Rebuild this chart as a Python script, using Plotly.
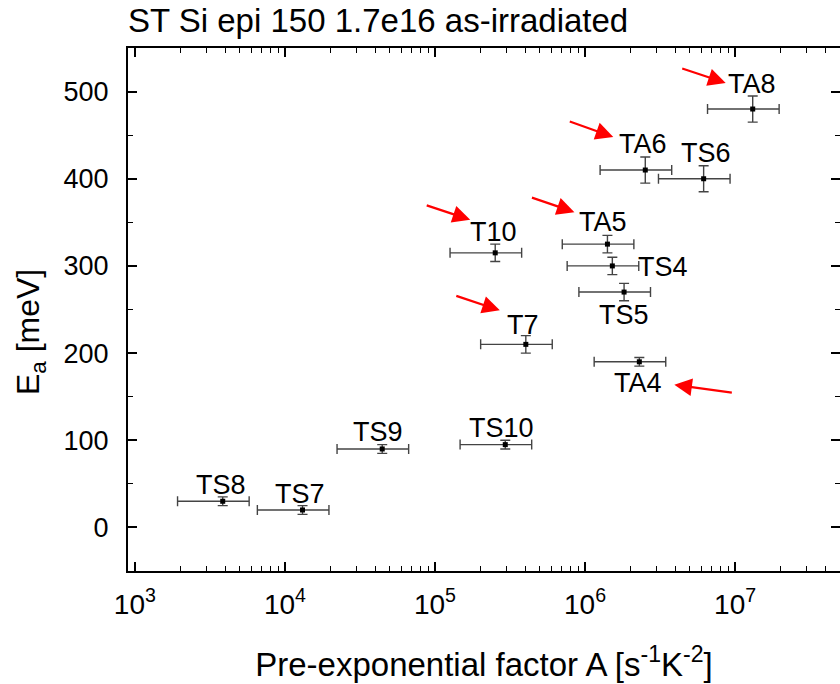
import math
import plotly.graph_objects as go

# Trap levels: pre-exponential factor A [s^-1 K^-2] and activation energy Ea [meV]
names = ["TS8", "TS7", "TS9", "TS10", "T7", "TA4", "TS5", "TS4", "T10", "TA5", "TA6", "TS6", "TA8"]
A_vals = [3.85e3, 1.31e4, 4.45e4, 2.94e5, 4.03e5, 2.30e6, 1.82e6, 1.52e6, 2.52e5, 1.41e6, 2.52e6, 6.17e6, 1.31e7]
Ea_vals = [30, 20, 90, 95, 210, 190, 270, 300, 315, 325, 410, 400, 480]
Ea_err = [5, 5, 5, 5, 10, 5, 10, 10, 10, 10, 15, 15, 15]
A_err_percent = 50

# Levels highlighted with a red arrow
highlighted = ["TA8", "TA6", "TA5", "T10", "T7", "TA4"]

x_tick_vals = [1e3, 1e4, 1e5, 1e6, 1e7]
x_tick_text = ["10<sup>3</sup>", "10<sup>4</sup>", "10<sup>5</sup>", "10<sup>6</sup>", "10<sup>7</sup>"]
y_tick_vals = [0, 100, 200, 300, 400, 500]

# label placement (pixel offsets of label centre from its point)
label_offsets = {
    "TS8": (-2, 16), "TS7": (-3, 16), "TS9": (-4, 17), "TS10": (-4, 17),
    "T7": (-3, 19), "TA4": (-1, -21), "TS5": (0, -23), "TS4": (51, -1),
    "T10": (-2, 21), "TA5": (-4, 22), "TA6": (-2, 26), "TS6": (2, 26), "TA8": (-1, 25),
}
# arrow tip shift from the point and tail offset from the tip (pixels)
arrow_geom = {
    "TA8": (-27, 26, -45, -15),
    "TA6": (-32, 33, -45, -16),
    "TA5": (-33, 32, -44, -15),
    "T10": (-25, 33, -45, -15),
    "T7": (-26, 34, -45, -15),
    "TA4": (35, -23, 59, 8),
}

FONT = "Arial, 'Liberation Sans', sans-serif"
W, H = 846, 684
PLOT_L, PLOT_R, PLOT_T, PLOT_B = 128, 842, 48, 571

fig = go.Figure()
fig.add_trace(go.Scatter(
    x=A_vals, y=Ea_vals, mode="markers",
    marker=dict(symbol="square", size=5, color="black"),
    error_x=dict(type="percent", value=A_err_percent, color="#444444", thickness=1.4, width=5),
    error_y=dict(type="data", array=Ea_err, color="#444444", thickness=1.4, width=5),
    showlegend=False,
))

annotations = []
for n, a, e in zip(names, A_vals, Ea_vals):
    dx, dy = label_offsets[n]
    lx = math.log10(a)  # annotations on a log axis use log10 coordinates
    annotations.append(dict(
        x=lx, y=e, xref="x", yref="y", text=n, showarrow=False,
        xshift=dx, yshift=dy, xanchor="center", yanchor="middle",
        font=dict(family=FONT, size=27, color="black"),
    ))
    if n in highlighted:
        sx, sy, ax, ay = arrow_geom[n]
        annotations.append(dict(
            x=lx, y=e, xref="x", yref="y", text="", showarrow=True,
            xshift=sx, yshift=sy, ax=ax, ay=ay, axref="pixel", ayref="pixel",
            arrowhead=2, arrowsize=1.6, arrowwidth=2.2, arrowcolor="#ff0000",
            standoff=0, startstandoff=0,
        ))

# y-axis title
annotations.append(dict(
    text="E<sub>a</sub> [meV]", textangle=-90, showarrow=False,
    xref="paper", yref="paper", x=0, y=(PLOT_B - 332) / (PLOT_B - PLOT_T),
    xanchor="center", yanchor="middle", xshift=30 - PLOT_L,
    font=dict(family=FONT, size=32, color="black"),
))

minor_x = [m * 10 ** k for k in range(2, 8) for m in range(2, 10)]

fig.update_layout(
    width=W, height=H,
    margin=dict(l=PLOT_L, r=W - PLOT_R, t=PLOT_T, b=H - PLOT_B),
    paper_bgcolor="white", plot_bgcolor="white",
    font=dict(family=FONT, color="black"),
    title=dict(text="ST Si epi 150 1.7e16 as-irradiated", x=0, xref="paper", xanchor="left",
               y=1 - 20 / H, yref="container", yanchor="middle",
               font=dict(family=FONT, size=33, color="black")),
    annotations=annotations,
)
fig.update_xaxes(
    type="log", range=[2.9542, 7.699],
    tickvals=x_tick_vals, ticktext=x_tick_text,
    ticks="inside", ticklen=9, tickwidth=1.6, tickcolor="black",
    minor=dict(tickvals=minor_x, ticks="inside", ticklen=5, tickwidth=1.4, tickcolor="black", showgrid=False),
    showline=True, linecolor="black", linewidth=2, mirror="ticks",
    showgrid=False, zeroline=False,
    tickfont=dict(family=FONT, size=28, color="black"), ticklabelstandoff=7,
    title=dict(text="Pre-exponential factor A [s<sup>-1</sup>K<sup>-2</sup>]",
               font=dict(family=FONT, size=33, color="black"), standoff=34),
)
fig.update_yaxes(
    range=[-50, 550], tickvals=y_tick_vals,
    ticks="inside", ticklen=9, tickwidth=1.6, tickcolor="black",
    minor=dict(dtick=50, ticks="inside", ticklen=5, tickwidth=1.4, tickcolor="black", showgrid=False),
    showline=True, linecolor="black", linewidth=2, mirror="ticks",
    showgrid=False, zeroline=False,
    tickfont=dict(family=FONT, size=27, color="black"), ticklabelstandoff=12,
)

fig.write_html(
    "out.html",
    post_script="document.documentElement.style.overflow='hidden';document.body.style.overflow='hidden';",
)
